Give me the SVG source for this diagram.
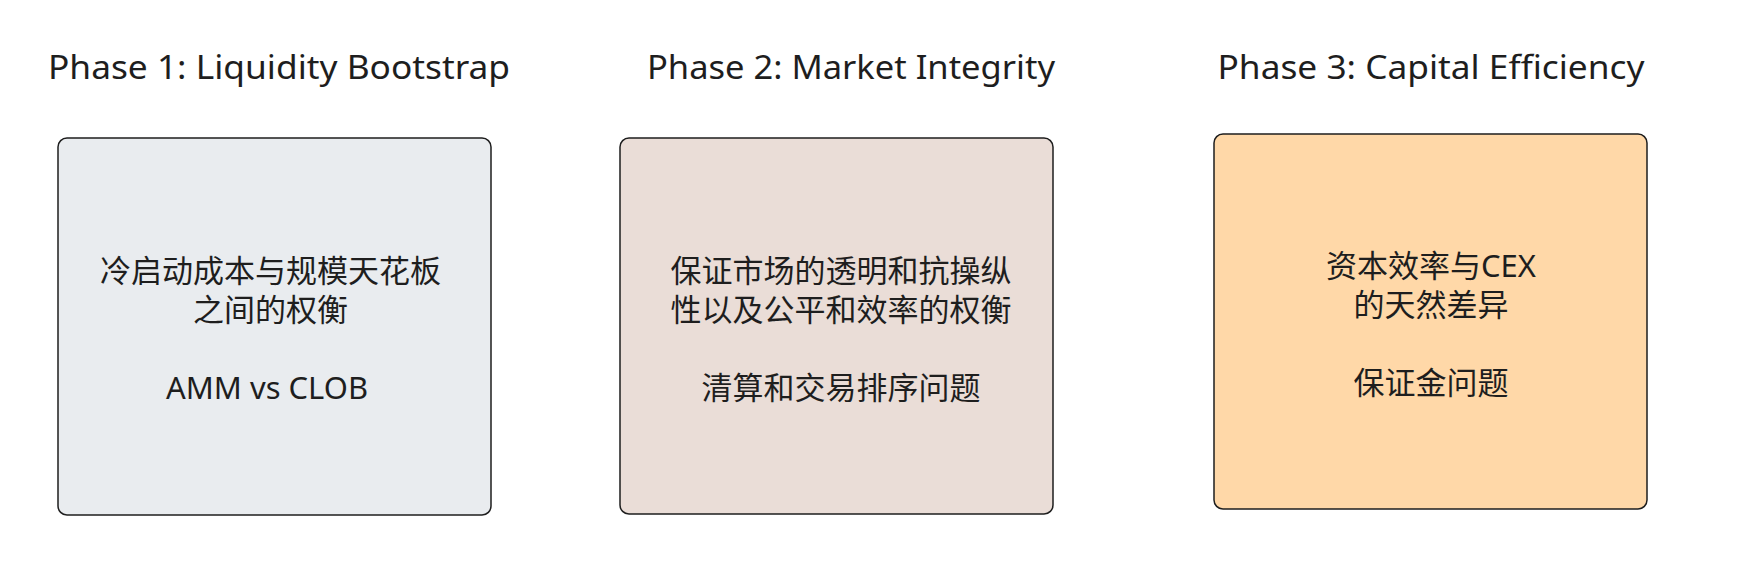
<svg xmlns="http://www.w3.org/2000/svg" width="1754" height="570" viewBox="0 0 1754 570">
  <style>
    .title { font-family: "Noto Sans", "Open Sans", sans-serif; font-size: 32px; font-weight: 400; fill: #1e1e1e; text-anchor: middle; }
    .body { font-family: "Noto Sans", "Noto Sans CJK SC", sans-serif; font-size: 31px; fill: #1e1e1e; text-anchor: middle; }
    .box { stroke: #1e1e1e; stroke-width: 1.5; }
  </style>
  <rect x="0" y="0" width="1754" height="570" fill="#ffffff"/>
  <g id="title1"><text class="title" x="279" y="79" textLength="462" lengthAdjust="spacingAndGlyphs">Phase 1: Liquidity Bootstrap</text></g>
  <g id="title2"><text class="title" x="851" y="79" textLength="408" lengthAdjust="spacingAndGlyphs">Phase 2: Market Integrity</text></g>
  <g id="title3"><text class="title" x="1431" y="79" textLength="427" lengthAdjust="spacingAndGlyphs">Phase 3: Capital Efficiency</text></g>
  <g id="phase1">
    <rect class="box" x="58" y="138" width="433" height="377" rx="9" fill="#e9ecef"/>
    <text class="body" x="270.5" y="282">冷启动成本与规模天花板</text>
    <text class="body" x="270.5" y="321">之间的权衡</text>
    <text class="body" x="267" y="399" textLength="202" lengthAdjust="spacingAndGlyphs">AMM vs CLOB</text>
  </g>
  <g id="phase2">
    <rect class="box" x="620" y="138" width="433" height="376" rx="9" fill="#eaddd7"/>
    <text class="body" x="841" y="282">保证市场的透明和抗操纵</text>
    <text class="body" x="841" y="321">性以及公平和效率的权衡</text>
    <text class="body" x="841" y="399">清算和交易排序问题</text>
  </g>
  <g id="phase3">
    <rect class="box" x="1214" y="134" width="433" height="375" rx="9" fill="#ffd8a8"/>
    <text class="body" x="1431" y="277">资本效率与CEX</text>
    <text class="body" x="1431" y="316">的天然差异</text>
    <text class="body" x="1431" y="394">保证金问题</text>
  </g>
  <g id="connectors"></g>
</svg>
